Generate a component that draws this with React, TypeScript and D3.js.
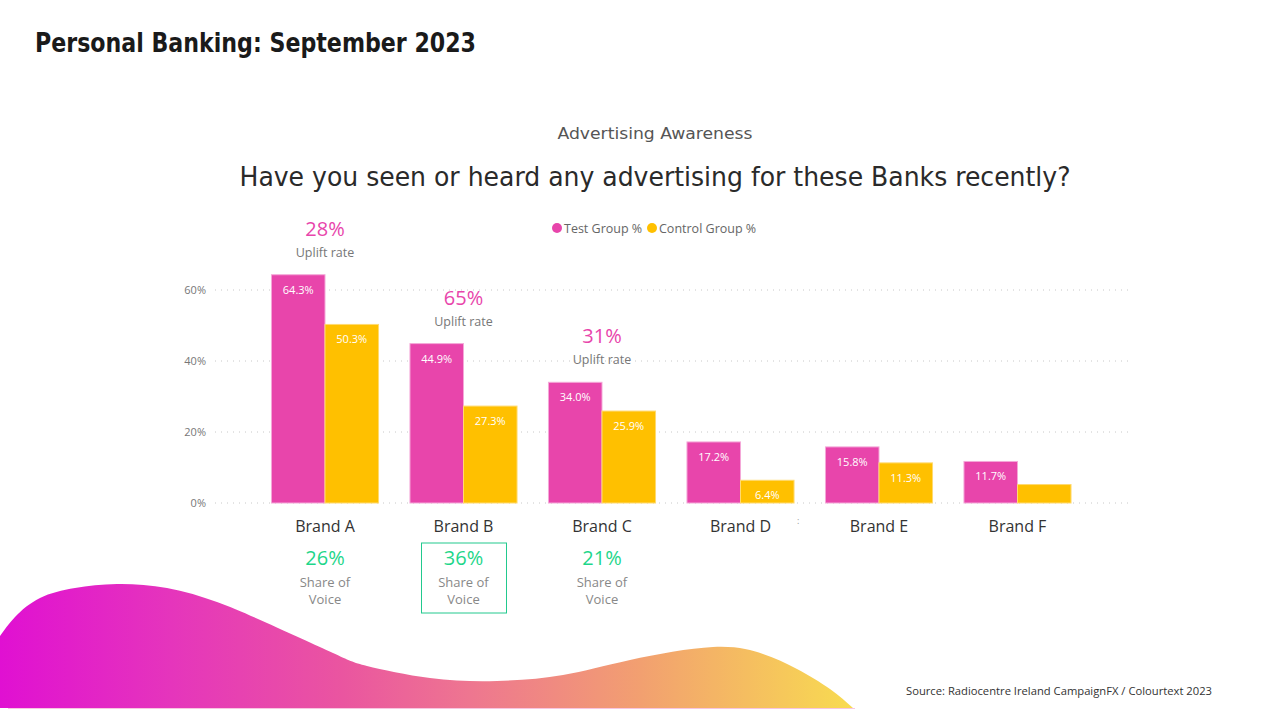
import React from "react";
import * as d3 from "d3";

const brands = ["Brand A", "Brand B", "Brand C", "Brand D", "Brand E", "Brand F"];
const testGroup = [64.3, 44.9, 34.0, 17.2, 15.8, 11.7];
const controlGroup = [50.3, 27.3, 25.9, 6.4, 11.3, 5.2];
const controlLabelShown = [true, true, true, true, true, false];
const yTicks = [0, 20, 40, 60];
const upliftBrands = ["Brand A", "Brand B", "Brand C"];
const upliftRates = ["28%", "65%", "31%"];
const sovBrands = ["Brand A", "Brand B", "Brand C"];
const sovValues = ["26%", "36%", "21%"];
const highlightedSov = "Brand B";
const seriesNames = ["Test Group %", "Control Group %"];
const seriesColors = ["#E845AB", "#FFC000"];

// decorative wave outline (background shape)
const wavePoints: [number, number][] = [
  [0, 636], [15, 617], [40, 598], [75, 588], [117, 584], [167, 588],
  [217, 602], [267, 623], [333, 653], [367, 666], [430, 678],
  [497, 681], [563, 675], [630, 660], [713, 647], [763, 654],
  [797, 669], [830, 689], [853, 708],
];

const W = 1280;
const H = 720;

export default function App() {
  const x0 = d3
    .scaleBand<string>()
    .domain(brands)
    .range([255.75, 1086.75])
    .paddingInner(0.227)
    .paddingOuter(0.1135);
  const x1 = d3.scaleBand<number>().domain([0, 1]).range([0, x0.bandwidth()]);
  const y = d3.scaleLinear().domain([0, 60]).range([503, 290]);

  const waveLine = d3.line().curve(d3.curveNatural);
  const wavePath = (waveLine(wavePoints) as string) + ` L853,708 L0,708 Z`;

  const font = "'Open Sans', 'Noto Sans', sans-serif";
  const dinFont = "'DejaVu Sans Condensed', 'DejaVu Sans', sans-serif";

  const cx = (b: string) => (x0(b) as number) + x0.bandwidth() / 2;

  return (
    <svg
      width={W}
      height={H}
      viewBox={`0 0 ${W} ${H}`}
      style={{ position: "absolute", left: 0, top: 0, background: "#fff" }}
    >
      <defs>
        <linearGradient id="waveGrad" gradientUnits="userSpaceOnUse" x1="0" x2="855" y1="0" y2="0">
          <stop offset="0%" stopColor="#E010D2" />
          <stop offset="20%" stopColor="#E535BC" />
          <stop offset="40%" stopColor="#EA55A0" />
          <stop offset="55%" stopColor="#EE7690" />
          <stop offset="75%" stopColor="#F2A070" />
          <stop offset="100%" stopColor="#F8DC50" />
        </linearGradient>
      </defs>

      <path d={wavePath} fill="url(#waveGrad)" />
      <line x1={8} x2={855} y1={708.5} y2={708.5} stroke="#F7C6E0" strokeWidth={1} />

      {/* Title */}
      <text
        x={35}
        y={52}
        fontFamily={dinFont}
        fontWeight="bold"
        fontSize={27}
        fill="#1a1a1a"
        textLength={441}
        lengthAdjust="spacingAndGlyphs"
      >
        Personal Banking: September 2023
      </text>

      <text
        x={655}
        y={139}
        textAnchor="middle"
        fontFamily={dinFont}
        fontSize={16}
        fill="#555"
        textLength={195}
        lengthAdjust="spacingAndGlyphs"
      >
        Advertising Awareness
      </text>
      <text
        x={655}
        y={186}
        textAnchor="middle"
        fontFamily={dinFont}
        fontSize={26}
        fill="#2a2a2a"
        textLength={831}
        lengthAdjust="spacingAndGlyphs"
      >
        Have you seen or heard any advertising for these Banks recently?
      </text>

      {/* Legend */}
      <circle cx={557} cy={228} r={5} fill={seriesColors[0]} />
      <text x={564} y={232.5} fontFamily={font} fontSize={12.5} fill="#666">
        {seriesNames[0]}
      </text>
      <circle cx={652} cy={228} r={5} fill={seriesColors[1]} />
      <text x={659} y={232.5} fontFamily={font} fontSize={12.5} fill="#666">
        {seriesNames[1]}
      </text>

      {/* Gridlines and y axis */}
      {yTicks.map((t) => (
        <g key={t}>
          <line
            x1={215}
            x2={1128}
            y1={y(t)}
            y2={y(t)}
            stroke="#c8c8c8"
            strokeWidth={1}
            strokeDasharray="1,5"
          />
          <text
            x={206}
            y={y(t) + 4}
            textAnchor="end"
            fontFamily={font}
            fontSize={11}
            fill="#777"
          >
            {t}%
          </text>
        </g>
      ))}

      {/* Bars */}
      {brands.map((b, i) => {
        const vals = [testGroup[i], controlGroup[i]];
        return (
          <g key={b} transform={`translate(${x0(b)},0)`}>
            {vals.map((v, s) => (
              <g key={s}>
                <rect
                  x={x1(s) as number}
                  y={y(v)}
                  width={x1.bandwidth()}
                  height={y(0) - y(v)}
                  fill={seriesColors[s]}
                  stroke={s === 0 ? "#F4A8D8" : "#FFDA70"}
                  strokeWidth={1}
                />
                {(s === 0 || controlLabelShown[i]) && (
                  <text
                    x={(x1(s) as number) + x1.bandwidth() / 2}
                    y={y(v) + 19}
                    textAnchor="middle"
                    fontFamily={font}
                    fontSize={11}
                    fill="#fff"
                  >
                    {v.toFixed(1)}%
                  </text>
                )}
              </g>
            ))}
            <text
              x={x0.bandwidth() / 2}
              y={532}
              textAnchor="middle"
              fontFamily={font}
              fontSize={16}
              fill="#333"
            >
              {b}
            </text>
          </g>
        );
      })}

      <text x={797} y={524} fontFamily={font} fontSize={9} fill="#999">
        :
      </text>

      {/* Uplift annotations */}
      {upliftBrands.map((b, i) => {
        const top = y(testGroup[brands.indexOf(b)]);
        return (
          <g key={b}>
            <text
              x={cx(b)}
              y={top - 39}
              textAnchor="middle"
              fontFamily={font}
              fontSize={20}
              fill="#E845AB"
            >
              {upliftRates[i]}
            </text>
            <text
              x={cx(b)}
              y={top - 18}
              textAnchor="middle"
              fontFamily={font}
              fontSize={12.5}
              fill="#777"
            >
              Uplift rate
            </text>
          </g>
        );
      })}

      {/* Share of voice */}
      {sovBrands.map((b, i) => (
        <g key={b}>
          {b === highlightedSov && (
            <rect
              x={cx(b) - 42}
              y={543}
              width={85}
              height={70}
              fill="none"
              stroke="#22C98E"
              strokeWidth={1}
            />
          )}
          <text
            x={cx(b)}
            y={565}
            textAnchor="middle"
            fontFamily={font}
            fontSize={20}
            fill="#1ED68A"
          >
            {sovValues[i]}
          </text>
          <text
            x={cx(b)}
            y={587}
            textAnchor="middle"
            fontFamily={font}
            fontSize={13}
            fill="#888"
          >
            Share of
          </text>
          <text
            x={cx(b)}
            y={604}
            textAnchor="middle"
            fontFamily={font}
            fontSize={13}
            fill="#888"
          >
            Voice
          </text>
        </g>
      ))}

      <text
        x={906}
        y={695}
        fontFamily={font}
        fontSize={11}
        fill="#333"
        textLength={306}
        lengthAdjust="spacingAndGlyphs"
      >
        Source: Radiocentre Ireland CampaignFX / Colourtext 2023
      </text>
    </svg>
  );
}
